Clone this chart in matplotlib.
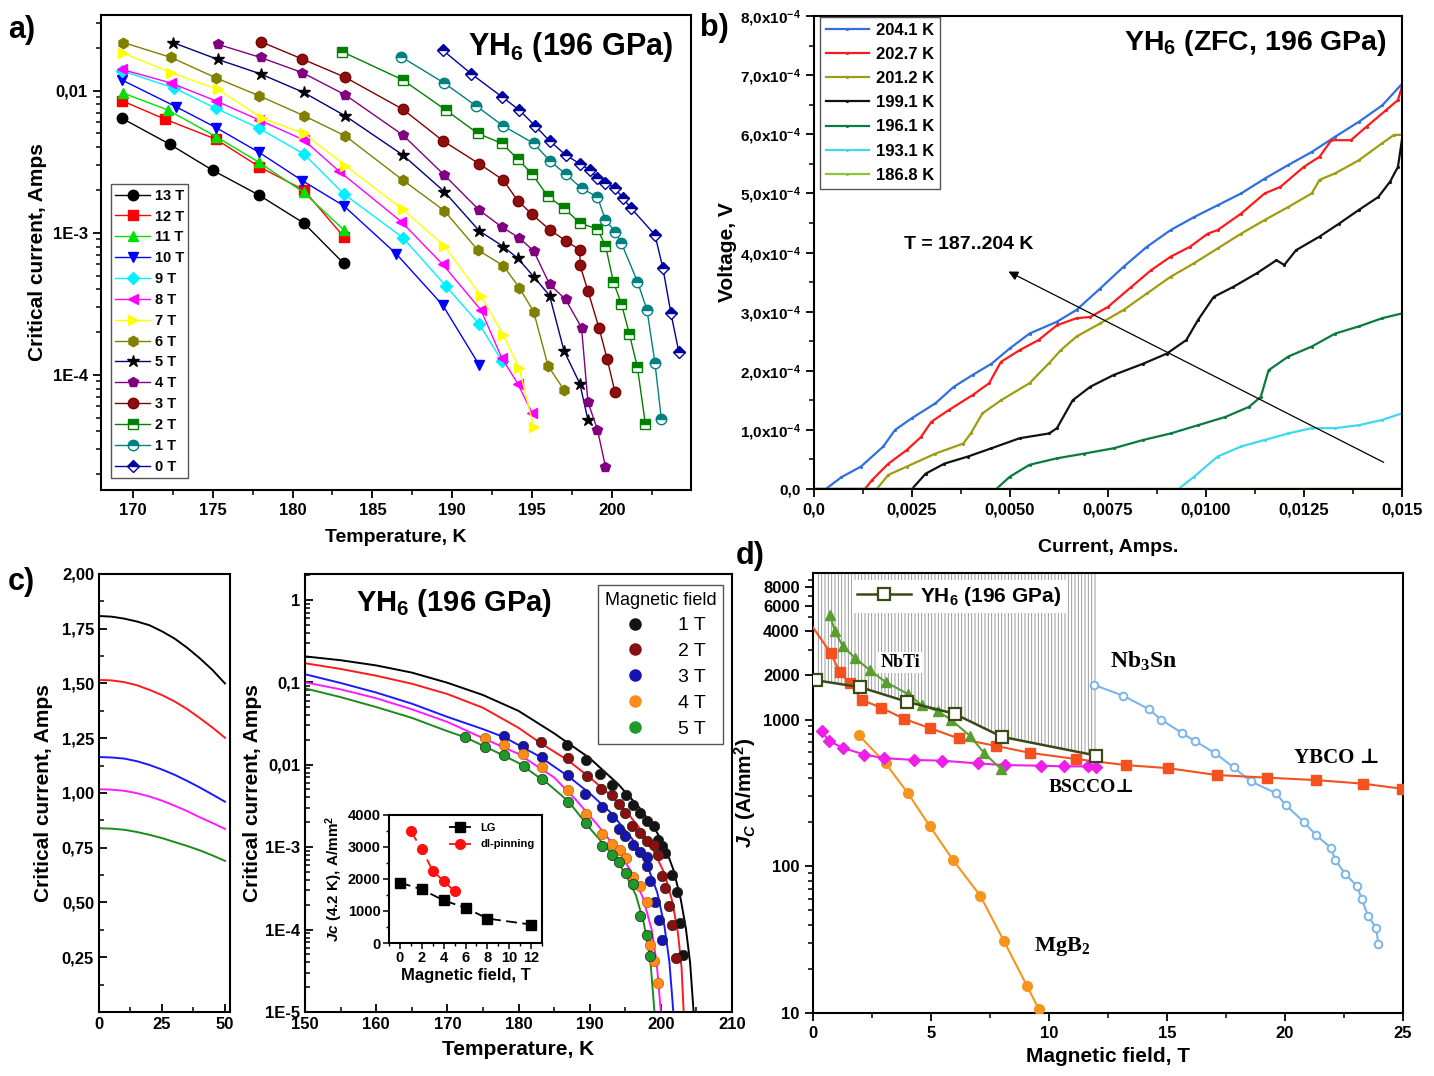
import matplotlib
matplotlib.use('Agg')
import matplotlib.pyplot as plt
from matplotlib.ticker import FixedLocator, FixedFormatter, LogLocator, NullFormatter, MultipleLocator
from matplotlib.lines import Line2D

plt.rcParams['font.family'] = ['Liberation Sans', 'DejaVu Sans']
plt.rcParams['font.weight'] = 'bold'
plt.rcParams['axes.labelweight'] = 'bold'
plt.rcParams['mathtext.fontset'] = 'custom'
plt.rcParams['mathtext.rm'] = 'Liberation Sans:bold'
plt.rcParams['mathtext.bf'] = 'Liberation Sans:bold'
plt.rcParams['mathtext.it'] = 'Liberation Sans:bold:italic'
plt.rcParams['mathtext.sf'] = 'Liberation Serif:bold'
plt.rcParams['mathtext.default'] = 'rm'
plt.rcParams['hatch.linewidth'] = 0.6
plt.rcParams['axes.linewidth'] = 1.5

# ---------------- panel a data: critical current vs T at fields ----------------
T13 = [169.3, 172.3, 175.0, 177.9, 180.7, 183.2]
I13 = [6.4e-3, 4.2e-3, 2.75e-3, 1.84e-3, 1.17e-3, 6.1e-4]
T12 = [169.3, 172.0, 175.2, 177.9, 180.7, 183.2]
I12 = [8.5e-3, 6.3e-3, 4.55e-3, 2.92e-3, 2.0e-3, 9.4e-4]
T11 = [169.4, 172.2, 175.2, 177.9, 180.7, 183.2]
I11 = [9.6e-3, 7.3e-3, 4.75e-3, 3.13e-3, 1.92e-3, 1.05e-3]
T10 = [169.3, 172.7, 175.2, 177.9, 180.6, 183.2, 186.5, 189.4, 191.7]
I10 = [1.19e-2, 7.7e-3, 5.5e-3, 3.68e-3, 2.33e-3, 1.55e-3, 7.1e-4, 3.1e-4, 1.17e-4]
T9 = [169.3, 172.6, 175.2, 177.9, 180.7, 183.2, 186.9, 189.6, 191.7, 193.1]
I9 = [1.38e-2, 1.04e-2, 7.5e-3, 5.43e-3, 3.59e-3, 1.88e-3, 9.25e-4, 4.23e-4, 2.27e-4, 1.26e-4]
T8 = [169.3, 172.4, 175.2, 177.9, 180.7, 182.9, 186.8, 189.4, 191.8, 193.1, 194.1, 195.0]
I8 = [1.41e-2, 1.13e-2, 8.46e-3, 6.22e-3, 4.5e-3, 2.72e-3, 1.2e-3, 6.0e-4, 2.86e-4, 1.32e-4, 8.7e-5, 5.4e-5]
T7 = [169.4, 172.4, 175.3, 178.1, 180.7, 183.3, 186.9, 189.5, 191.8, 193.2, 194.2, 195.1]
I7 = [1.83e-2, 1.34e-2, 1.02e-2, 6.4e-3, 5.0e-3, 2.97e-3, 1.46e-3, 8.1e-4, 3.6e-4, 1.91e-4, 1.11e-4, 4.3e-5]
T6 = [169.4, 172.4, 175.2, 177.9, 180.7, 183.3, 186.9, 189.5, 191.6, 193.2, 194.2, 195.1, 196.0, 197.0]
I6 = [2.18e-2, 1.71e-2, 1.23e-2, 9.2e-3, 6.67e-3, 4.8e-3, 2.35e-3, 1.43e-3, 7.57e-4, 5.87e-4, 4.11e-4, 2.79e-4, 1.16e-4, 7.84e-5]
T5 = [172.5, 175.3, 178.0, 180.7, 183.3, 186.9, 189.5, 191.7, 193.2, 194.1, 195.1, 196.1, 197.0, 198.0, 198.5]
I5 = [2.18e-2, 1.66e-2, 1.31e-2, 9.7e-3, 6.64e-3, 3.53e-3, 1.95e-3, 1.03e-3, 8.0e-4, 6.62e-4, 4.92e-4, 3.61e-4, 1.48e-4, 8.65e-5, 4.82e-5]
T4 = [175.3, 178.0, 180.6, 183.3, 186.9, 189.5, 191.7, 193.1, 194.2, 195.1, 196.1, 197.1, 198.1, 198.5, 199.1, 199.6]
I4 = [2.12e-2, 1.71e-2, 1.34e-2, 9.33e-3, 4.88e-3, 2.55e-3, 1.44e-3, 1.1e-3, 9.2e-4, 7.45e-4, 4.34e-4, 3.4e-4, 2.15e-4, 6.45e-5, 4.1e-5, 2.26e-5]
T3 = [178.0, 180.6, 183.3, 186.9, 189.4, 191.7, 193.2, 194.1, 195.0, 196.1, 197.1, 198.0, 198.0, 198.5, 199.2, 199.7, 200.2]
I3 = [2.21e-2, 1.67e-2, 1.24e-2, 7.4e-3, 4.45e-3, 3.05e-3, 2.35e-3, 1.68e-3, 1.35e-3, 1.05e-3, 8.8e-4, 7.57e-4, 5.94e-4, 3.9e-4, 2.13e-4, 1.3e-4, 7.55e-5]
T2 = [183.1, 186.9, 189.6, 191.6, 193.1, 194.1, 195.0, 196.0, 197.0, 198.0, 199.1, 199.6, 200.1, 200.6, 201.1, 201.6, 202.1]
I2 = [1.88e-2, 1.19e-2, 7.3e-3, 5.0e-3, 4.26e-3, 3.31e-3, 2.59e-3, 1.8e-3, 1.49e-3, 1.17e-3, 1.06e-3, 8.13e-4, 4.49e-4, 3.16e-4, 1.93e-4, 1.13e-4, 4.5e-5]
T1 = [186.8, 189.5, 191.5, 193.2, 195.1, 196.1, 197.1, 198.1, 199.1, 199.6, 200.2, 200.6, 201.6, 202.2, 202.7, 203.1]
I1 = [1.73e-2, 1.13e-2, 7.8e-3, 5.64e-3, 4.26e-3, 3.22e-3, 2.59e-3, 2.06e-3, 1.78e-3, 1.23e-3, 1.02e-3, 8.44e-4, 4.54e-4, 2.87e-4, 1.21e-4, 4.88e-5]
T0 = [189.4, 191.2, 193.1, 194.2, 195.2, 196.1, 197.1, 198.0, 198.6, 199.1, 199.6, 200.2, 200.7, 201.2, 202.7, 203.2, 203.7, 204.2]
I0 = [1.93e-2, 1.31e-2, 9.07e-3, 7.3e-3, 5.64e-3, 4.43e-3, 3.53e-3, 3.05e-3, 2.77e-3, 2.42e-3, 2.25e-3, 2.06e-3, 1.75e-3, 1.49e-3, 9.66e-4, 5.62e-4, 2.71e-4, 1.44e-4]
a_yticks = [1e-4, 1e-3, 1e-2]
a_yticklabels = ['1E-4', '1E-3', '0,01']

# ---------------- panel b data: V(I) curves ----------------
b_I_2041 = [0.0, 0.0003, 0.0007, 0.0012, 0.00177, 0.00207, 0.0025, 0.0031, 0.00357, 0.00405, 0.00453, 0.005, 0.0055, 0.0062, 0.0067, 0.0073, 0.0079, 0.0085, 0.0091, 0.0097, 0.0103, 0.0109, 0.0115, 0.0121, 0.0127, 0.0133, 0.0139, 0.0145, 0.015]
b_V_2041 = [0.0, 0.0, 0.2e-4, 0.38e-4, 0.72e-4, 1.0e-4, 1.2e-4, 1.45e-4, 1.73e-4, 1.93e-4, 2.12e-4, 2.38e-4, 2.63e-4, 2.83e-4, 3.03e-4, 3.39e-4, 3.76e-4, 4.1e-4, 4.38e-4, 4.6e-4, 4.8e-4, 5.0e-4, 5.25e-4, 5.48e-4, 5.7e-4, 5.96e-4, 6.21e-4, 6.49e-4, 6.85e-4]
b_I_2027 = [0.0, 0.0013, 0.00148, 0.0019, 0.00237, 0.00273, 0.003, 0.00345, 0.00405, 0.00447, 0.00477, 0.00525, 0.00573, 0.0062, 0.0067, 0.00705, 0.0075, 0.0081, 0.0086, 0.0091, 0.0096, 0.01005, 0.0103, 0.0109, 0.0115, 0.0119, 0.0125, 0.0129, 0.0132, 0.0137, 0.0141, 0.0146, 0.0149, 0.015]
b_V_2027 = [0.0, 0.0, 0.15e-4, 0.43e-4, 0.66e-4, 0.88e-4, 1.14e-4, 1.34e-4, 1.59e-4, 1.79e-4, 2.15e-4, 2.35e-4, 2.52e-4, 2.77e-4, 2.89e-4, 2.91e-4, 3.08e-4, 3.42e-4, 3.7e-4, 3.93e-4, 4.1e-4, 4.32e-4, 4.38e-4, 4.66e-4, 5.0e-4, 5.11e-4, 5.45e-4, 5.62e-4, 5.9e-4, 5.9e-4, 6.13e-4, 6.41e-4, 6.58e-4, 6.8e-4]
b_I_2012 = [0.0, 0.0016, 0.0019, 0.00237, 0.0031, 0.00381, 0.004, 0.0043, 0.00477, 0.0055, 0.006, 0.0063, 0.0067, 0.0073, 0.0079, 0.0085, 0.0091, 0.0097, 0.0103, 0.0109, 0.0115, 0.0121, 0.0127, 0.0129, 0.0133, 0.0139, 0.0145, 0.0148, 0.015]
b_V_2012 = [0.0, 0.0, 0.24e-4, 0.38e-4, 0.6e-4, 0.77e-4, 0.94e-4, 1.28e-4, 1.5e-4, 1.79e-4, 2.13e-4, 2.35e-4, 2.58e-4, 2.8e-4, 3.03e-4, 3.31e-4, 3.59e-4, 3.82e-4, 4.07e-4, 4.32e-4, 4.55e-4, 4.77e-4, 5.0e-4, 5.23e-4, 5.34e-4, 5.56e-4, 5.85e-4, 5.99e-4, 5.99e-4]
b_I_1991 = [0.0, 0.0025, 0.00285, 0.00333, 0.00393, 0.00453, 0.00525, 0.006, 0.0062, 0.0066, 0.00705, 0.00765, 0.0084, 0.009, 0.0095, 0.0098, 0.0102, 0.0107, 0.0113, 0.0118, 0.012, 0.0123, 0.0129, 0.0134, 0.0139, 0.0144, 0.0147, 0.0149, 0.015]
b_V_1991 = [0.0, 0.0, 0.26e-4, 0.43e-4, 0.55e-4, 0.69e-4, 0.86e-4, 0.94e-4, 1.03e-4, 1.5e-4, 1.73e-4, 1.93e-4, 2.12e-4, 2.29e-4, 2.52e-4, 2.86e-4, 3.25e-4, 3.42e-4, 3.65e-4, 3.87e-4, 3.79e-4, 4.04e-4, 4.27e-4, 4.49e-4, 4.72e-4, 4.94e-4, 5.2e-4, 5.45e-4, 5.9e-4]
b_I_1961 = [0.0, 0.00465, 0.005, 0.0055, 0.0062, 0.0069, 0.00765, 0.0084, 0.0091, 0.0098, 0.0105, 0.0111, 0.0114, 0.0116, 0.0121, 0.0127, 0.0133, 0.0139, 0.0145, 0.015]
b_V_1961 = [0.0, 0.0, 0.21e-4, 0.41e-4, 0.52e-4, 0.6e-4, 0.69e-4, 0.83e-4, 0.94e-4, 1.08e-4, 1.22e-4, 1.39e-4, 1.56e-4, 2.01e-4, 2.24e-4, 2.41e-4, 2.63e-4, 2.75e-4, 2.89e-4, 2.97e-4]
b_I_1931 = [0.0, 0.0093, 0.0097, 0.0103, 0.0109, 0.0115, 0.0121, 0.0127, 0.0133, 0.0139, 0.0145, 0.015]
b_V_1931 = [0.0, 0.0, 0.21e-4, 0.55e-4, 0.72e-4, 0.83e-4, 0.94e-4, 1.03e-4, 1.03e-4, 1.08e-4, 1.17e-4, 1.28e-4]
b_I_1868 = [0.0, 0.005, 0.01, 0.015]
b_V_1868 = [0.0, 0.02e-5, 0.03e-5, 0.04e-5]
b_labels = ['204.1 K', '202.7 K', '201.2 K', '199.1 K', '196.1 K', '193.1 K', '186.8 K']
b_colors = ['#2f6fde', '#ff1a1a', '#a09c10', '#111111', '#0b7a3e', '#3fd8f2', '#8cc43a']
b_yticks = [0, 1e-4, 2e-4, 3e-4, 4e-4, 5e-4, 6e-4, 7e-4, 8e-4]
b_yticklabels = ['0,0'] + ['%d,0x10$^{-4}$' % k for k in range(1, 9)]
b_xticks = [0, 0.0025, 0.005, 0.0075, 0.01, 0.0125, 0.015]
b_xticklabels = ['0,0', '0,0025', '0,0050', '0,0075', '0,0100', '0,0125', '0,015']

# ---------------- panel c data ----------------
cL_T = [0, 5, 10, 15, 20, 25, 30, 35, 40, 45, 50]
cL_1T = [1.808, 1.805, 1.796, 1.783, 1.766, 1.738, 1.705, 1.663, 1.615, 1.562, 1.500]
cL_2T = [1.516, 1.514, 1.506, 1.492, 1.471, 1.447, 1.418, 1.383, 1.342, 1.299, 1.252]
cL_3T = [1.164, 1.162, 1.157, 1.145, 1.128, 1.107, 1.083, 1.055, 1.025, 0.993, 0.960]
cL_4T = [1.017, 1.015, 1.010, 0.999, 0.984, 0.965, 0.942, 0.917, 0.889, 0.863, 0.836]
cL_5T = [0.839, 0.837, 0.832, 0.822, 0.809, 0.794, 0.776, 0.758, 0.738, 0.715, 0.690]
cL_yticks = [0.25, 0.5, 0.75, 1.0, 1.25, 1.5, 1.75, 2.0]
cL_yticklabels = ['0,25', '0,50', '0,75', '1,00', '1,25', '1,50', '1,75', '2,00']

fit1_T = [150, 155, 160, 165, 170, 175, 180, 185, 190, 194, 197, 199, 200.5, 201.8, 202.8, 203.5, 204.1, 204.6]
fit1_I = [0.206, 0.185, 0.160, 0.131, 0.0986, 0.070, 0.0449, 0.0240, 1.2e-2, 5.8e-3, 3.0e-3, 1.75e-3, 1.05e-3, 5.2e-4, 2.3e-4, 1.05e-4, 4.0e-5, 1.0e-5]
fit2_T = [150, 155, 160, 165, 170, 175, 180, 183, 187, 190, 193, 195, 197, 199, 200.5, 201.6, 202.4, 202.9, 203.2]
fit2_I = [0.170, 0.145, 0.120, 0.096, 0.072, 0.049, 0.028, 0.0185, 1.12e-2, 7.0e-3, 4.2e-3, 2.8e-3, 1.7e-3, 9.0e-4, 4.8e-4, 2.2e-4, 9e-5, 3.5e-5, 1e-5]
fit3_T = [150, 155, 160, 165, 170, 175, 178, 183, 187, 190, 193, 196, 198, 199.5, 200.5, 201.2, 201.75]
fit3_I = [0.125, 0.098, 0.075, 0.055, 0.038, 0.027, 0.0215, 0.0125, 7.2e-3, 4.5e-3, 2.6e-3, 1.25e-3, 6.3e-4, 2.8e-4, 1.1e-4, 4e-5, 1e-5]
fit4_T = [150, 155, 160, 165, 170, 175, 180, 185, 188, 191, 194, 196, 197.5, 198.7, 199.4, 200.0]
fit4_I = [0.0997, 0.082, 0.064, 0.047, 0.033, 0.021, 0.0135, 7.0e-3, 3.8e-3, 1.9e-3, 9.0e-4, 4.8e-4, 2.4e-4, 1.0e-4, 4e-5, 1e-5]
fit5_T = [150, 155, 160, 165, 170, 172.5, 176, 180, 184, 187, 190, 193, 195, 196.5, 197.6, 198.5, 199.1]
fit5_I = [0.0843, 0.066, 0.050, 0.037, 0.0255, 0.0215, 0.0155, 0.0105, 6.0e-3, 3.6e-3, 1.7e-3, 8.5e-4, 4.8e-4, 2.6e-4, 1.2e-4, 4.5e-5, 1e-5]
c_yticks = [1e-5, 1e-4, 1e-3, 1e-2, 1e-1, 1]
c_yticklabels = ['1E-5', '1E-4', '1E-3', '0,01', '0,1', '1']
c_field_labels = ['1 T', '2 T', '3 T', '4 T', '5 T']
c_marker_colors = ['#141414', '#8a1010', '#1414b4', '#ff8c1a', '#1f9a2a']
c_line_colors = ['#000000', '#ff1a1a', '#1a1aff', '#ff1aff', '#1a8c1a']

inset_LG_B = [0, 2, 4, 6, 8, 12]
inset_LG_J = [1885, 1675, 1330, 1100, 764, 576]
inset_dl_B = [1, 2, 3, 4, 5]
inset_dl_J = [3487, 2932, 2251, 1937, 1613]

# ---------------- panel d data ----------------
d_YH6_B = [0.13, 2.0, 4.0, 6.0, 8.0, 12.0]
d_YH6_J = [1855, 1665, 1322, 1096, 764, 569]
d_NbTi_B = [0.72, 0.94, 1.26, 1.79, 2.40, 3.08, 4.02, 4.62, 5.28, 5.85, 6.66, 7.26, 7.98]
d_NbTi_J = [5140, 3993, 3170, 2628, 2180, 1805, 1496, 1253, 1143, 1000, 773, 591, 459]
d_YBCO_B = [0.0, 0.75, 1.13, 1.55, 2.08, 2.89, 3.87, 4.96, 6.17, 7.75, 9.19, 11.13, 13.25, 15.04, 17.11, 19.25, 21.32, 23.3, 24.96]
d_YBCO_J = [4256, 2850, 2120, 1774, 1359, 1207, 1011, 875, 745, 662, 594, 539, 490, 467, 419, 402, 387, 366, 338]
d_BSCCO_B = [0.38, 0.66, 1.28, 2.17, 3.02, 4.28, 5.47, 6.98, 8.13, 9.66, 10.62, 11.66, 11.98]
d_BSCCO_J = [838, 717, 641, 578, 546, 531, 525, 503, 490, 485, 480, 480, 472]
d_MgB2_B = [1.94, 3.08, 4.02, 4.94, 5.94, 7.09, 8.09, 9.08, 9.57]
d_MgB2_J = [785, 503, 316, 189, 110, 63, 31, 15.2, 10.6]
d_Nb3Sn_B = [11.89, 13.15, 14.25, 14.75, 15.66, 16.17, 17.04, 17.83, 18.55, 19.62, 20.04, 20.81, 21.32, 21.94, 22.13, 22.55, 23.06, 23.25, 23.53, 23.87, 23.96]
d_Nb3Sn_J = [1730, 1456, 1175, 1000, 807, 717, 591, 472, 380, 315, 261, 200, 163, 134, 111, 89, 73, 60, 45.7, 37.9, 29.3]
d_yticks = [10, 100, 1000, 2000, 4000, 6000, 8000]
d_yticklabels = ['10', '100', '1000', '2000', '4000', '6000', '8000']

# ============================================================
fig = plt.figure(figsize=(14.34, 10.76), dpi=100)

# ---------------- panel a ----------------
axa = fig.add_axes([0.0704, 0.5446, 0.4114, 0.4414])
a_series = [
    (T13, I13, '13 T', dict(marker='o', color='#000000', mfc='#000000')),
    (T12, I12, '12 T', dict(marker='s', color='#ff0000', mfc='#ff0000')),
    (T11, I11, '11 T', dict(marker='^', color='#00e000', mfc='#00e000')),
    (T10, I10, '10 T', dict(marker='v', color='#0000ff', mfc='#0000ff')),
    (T9, I9, '9 T', dict(marker='D', color='#00f0ff', mfc='#00f0ff', ms=6.5)),
    (T8, I8, '8 T', dict(marker='<', color='#ff00ff', mfc='#ff00ff')),
    (T7, I7, '7 T', dict(marker='>', color='#ffff00', mfc='#ffff00')),
    (T6, I6, '6 T', dict(marker='h', color='#808000', mfc='#808000')),
    (T5, I5, '5 T', dict(marker='*', color='#000080', mfc='#000000', mec='#000000', ms=9)),
    (T4, I4, '4 T', dict(marker='p', color='#800080', mfc='#800080')),
    (T3, I3, '3 T', dict(marker='o', color='#800000', mfc='#8b1010')),
    (T2, I2, '2 T', dict(marker='s', color='#008000', mfc='#008000', fillstyle='top', markerfacecoloralt='white', ms=6.5)),
    (T1, I1, '1 T', dict(marker='o', color='#008080', mfc='#008080', fillstyle='top', markerfacecoloralt='white')),
    (T0, I0, '0 T', dict(marker='D', color='#0000a0', mfc='#0000a0', fillstyle='top', markerfacecoloralt='white', ms=6.5)),
]
for T, I, lab, kw in a_series:
    kw = dict(kw)
    kw.setdefault('ms', 7.5)
    kw.setdefault('mec', kw['color'])
    axa.plot(T, I, lw=1.0, label=lab, **kw)
axa.set_yscale('log')
axa.set_xlim(168.0, 204.95)
axa.set_ylim(1.55e-5, 0.034)
axa.xaxis.set_major_locator(MultipleLocator(5))
axa.xaxis.set_minor_locator(MultipleLocator(2.5))
axa.yaxis.set_major_locator(FixedLocator(a_yticks))
axa.yaxis.set_major_formatter(FixedFormatter(a_yticklabels))
axa.yaxis.set_minor_locator(LogLocator(base=10, subs=(2, 3, 4, 5, 6, 7, 8, 9)))
axa.yaxis.set_minor_formatter(NullFormatter())
axa.tick_params(axis='both', which='major', direction='out', length=6, width=1.3, labelsize=12, top=False, right=False)
axa.tick_params(axis='both', which='minor', direction='out', length=3.5, width=1.1, top=False, right=False)
axa.set_xlabel('Temperature, K', fontsize=14, labelpad=8)
axa.set_ylabel('Critical current, Amps', fontsize=15, labelpad=4)
axa.text(0.969, 0.933, 'YH$_\\mathbf{6}$ (196 GPa)', transform=axa.transAxes, ha='right', va='center', fontsize=22)
axa.legend(loc='lower left', bbox_to_anchor=(0.017, 0.025), fontsize=10.5, frameon=True, fancybox=False,
           edgecolor='#555555', framealpha=1, labelspacing=0.47, handlelength=2.4, handletextpad=0.3,
           borderpad=0.3, borderaxespad=0)

# ---------------- panel b ----------------
axb = fig.add_axes([0.5676, 0.5455, 0.4100, 0.4396])
b_series = [(b_I_2041, b_V_2041), (b_I_2027, b_V_2027), (b_I_2012, b_V_2012), (b_I_1991, b_V_1991),
            (b_I_1961, b_V_1961), (b_I_1931, b_V_1931), (b_I_1868, b_V_1868)]
for (I, V), lab, col in zip(b_series, b_labels, b_colors):
    axb.plot(I, V, color=col, lw=1.6, marker='.', ms=2.5, label=lab)
axb.set_xlim(0, 0.015)
axb.set_ylim(0, 8e-4)
axb.xaxis.set_major_locator(FixedLocator(b_xticks))
axb.xaxis.set_major_formatter(FixedFormatter(b_xticklabels))
axb.xaxis.set_minor_locator(MultipleLocator(0.00125))
axb.yaxis.set_major_locator(FixedLocator(b_yticks))
axb.yaxis.set_major_formatter(FixedFormatter(b_yticklabels))
axb.yaxis.set_minor_locator(MultipleLocator(0.5e-4))
axb.tick_params(axis='both', which='major', direction='out', length=6, width=1.3, top=False, right=False)
axb.tick_params(axis='x', which='major', labelsize=12)
axb.tick_params(axis='y', which='major', labelsize=11)
axb.tick_params(axis='both', which='minor', direction='out', length=3.5, width=1.1, top=False, right=False)
axb.set_xlabel('Current, Amps.', fontsize=14, labelpad=16)
axb.set_ylabel('Voltage, V', fontsize=15, labelpad=2)
axb.text(0.974, 0.943, 'YH$_\\mathbf{6}$ (ZFC, 196 GPa)', transform=axb.transAxes, ha='right', va='center', fontsize=20.5)
axb.annotate('', xy=(0.0049, 3.7e-4), xytext=(0.0146, 0.43e-4),
             arrowprops=dict(arrowstyle='-|>', color='black', lw=0.9, mutation_scale=14))
axb.text(0.0023, 4.13e-4, 'T = 187..204 K', fontsize=14, ha='left', va='center')
axb.legend(loc='upper left', bbox_to_anchor=(0.01, 0.998), fontsize=12, frameon=True, fancybox=False,
           edgecolor='#555555', framealpha=1, labelspacing=0.55, handlelength=2.6, handletextpad=0.4,
           borderpad=0.35, borderaxespad=0)

# ---------------- panel c left ----------------
axcl = fig.add_axes([0.0690, 0.0595, 0.0914, 0.4071])
for ys, col in zip([cL_1T, cL_2T, cL_3T, cL_4T, cL_5T], c_line_colors):
    axcl.plot(cL_T, ys, color=col, lw=1.4)
axcl.set_xlim(0, 52)
axcl.set_ylim(0, 2.0)
axcl.xaxis.set_major_locator(FixedLocator([0, 25, 50]))
axcl.xaxis.set_minor_locator(FixedLocator([12.5, 37.5]))
axcl.yaxis.set_major_locator(FixedLocator(cL_yticks))
axcl.yaxis.set_major_formatter(FixedFormatter(cL_yticklabels))
axcl.yaxis.set_minor_locator(MultipleLocator(0.125))
axcl.tick_params(axis='both', which='major', direction='in', length=6, width=1.3, labelsize=12, top=False, right=False)
axcl.tick_params(axis='both', which='minor', direction='in', length=3.5, width=1.1, top=False, right=False)
axcl.set_ylabel('Critical current, Amps', fontsize=15, labelpad=6)

# ---------------- panel c main ----------------
axc = fig.add_axes([0.2127, 0.0595, 0.2978, 0.4071])
fits = [(fit1_T, fit1_I), (fit2_T, fit2_I), (fit3_T, fit3_I), (fit4_T, fit4_I), (fit5_T, fit5_I)]
for (T, I), col in zip(fits, c_line_colors):
    axc.plot(T, I, color=col, lw=1.4, zorder=2)
c_data = [(T1, I1), (T2, I2), (T3, I3), (T4, I4), (T5, I5)]
handles = []
for (T, I), col, lab in zip(c_data, c_marker_colors, c_field_labels):
    axc.plot(T, I, ls='none', marker='o', ms=7.5, mfc=col, mec='#222222' if col != '#ff8c1a' else '#c06000',
             mew=0.5, zorder=3)
    handles.append(Line2D([], [], ls='none', marker='o', ms=8, mfc=col, mec=col, label=lab))
axc.set_yscale('log')
axc.set_xlim(150, 210)
axc.set_ylim(1e-5, 2.06)
axc.xaxis.set_major_locator(MultipleLocator(10))
axc.xaxis.set_minor_locator(MultipleLocator(5))
axc.yaxis.set_major_locator(FixedLocator(c_yticks))
axc.yaxis.set_major_formatter(FixedFormatter(c_yticklabels))
axc.yaxis.set_minor_locator(LogLocator(base=10, subs=(2, 3, 4, 5, 6, 7, 8, 9)))
axc.yaxis.set_minor_formatter(NullFormatter())
axc.tick_params(axis='both', which='major', direction='in', length=6, width=1.3, labelsize=12, top=False, right=False)
axc.tick_params(axis='both', which='minor', direction='in', length=3.5, width=1.1, top=False, right=False)
axc.set_xlabel('Temperature, K', fontsize=15, labelpad=6)
axc.set_ylabel('Critical current, Amps', fontsize=15, labelpad=2)
axc.text(0.12, 0.934, 'YH$_\\mathbf{6}$ (196 GPa)', transform=axc.transAxes, ha='left', va='center', fontsize=21)
legc = axc.legend(handles=handles, title='Magnetic field', loc='upper right', bbox_to_anchor=(0.979, 0.975),
                  title_fontsize=13, frameon=True, fancybox=False, edgecolor='#555555',
                  framealpha=1, labelspacing=0.42, handletextpad=1.2, borderpad=0.35, borderaxespad=0,
                  prop={'weight': 'normal', 'size': 14})
legc.get_title().set_fontweight('normal')

# inset
axi = fig.add_axes([0.2713, 0.1236, 0.1067, 0.1190])
axi.plot(inset_LG_B, inset_LG_J, color='black', ls=(0, (6, 3)), lw=1.3, marker='s', ms=7, label='LG')
axi.plot(inset_dl_B, inset_dl_J, color='#ff1010', ls=(0, (6, 3)), lw=1.3, marker='o', ms=7, label='dl-pinning')
axi.set_xlim(-1, 13)
axi.set_ylim(0, 4000)
axi.xaxis.set_major_locator(MultipleLocator(2))
axi.xaxis.set_minor_locator(MultipleLocator(1))
axi.yaxis.set_major_locator(MultipleLocator(1000))
axi.yaxis.set_minor_locator(MultipleLocator(500))
axi.tick_params(axis='both', which='major', direction='out', length=4, width=1.1, labelsize=10.5, top=False, right=False, pad=2)
axi.tick_params(axis='both', which='minor', direction='out', length=2.5, width=1.0, top=False, right=False)
axi.set_xlabel('Magnetic field, T', fontsize=12, labelpad=2)
axi.set_ylabel('$\\mathit{Jc}$ (4.2 K), A/mm$^\\mathbf{2}$', fontsize=11, labelpad=2)
axi.legend(loc='upper right', fontsize=8, frameon=False, handlelength=2.0, labelspacing=0.6, borderaxespad=0.3)

# ---------------- panel d ----------------
axd = fig.add_axes([0.5669, 0.0586, 0.4114, 0.4089])
axd.fill_between(d_YH6_B, d_YH6_J, 1e4, facecolor='none', edgecolor='#8c8c8c', hatch='|||||', linewidth=0, zorder=1)
axd.plot(d_MgB2_B, d_MgB2_J, color='#f7941d', lw=1.5, marker='o', ms=7, zorder=3)
axd.plot(d_Nb3Sn_B, d_Nb3Sn_J, color='#7ab6ea', lw=1.5, marker='o', ms=5.5, mfc='white', mew=1.4, zorder=3)
axd.plot(d_YBCO_B, d_YBCO_J, color='#f4511e', lw=1.5, marker='s', ms=7.5, markevery=list(range(1, len(d_YBCO_B))), zorder=3)
axd.plot(d_BSCCO_B, d_BSCCO_J, color='#ee20e8', lw=1.5, marker='D', ms=6.5, zorder=3)
axd.plot(d_NbTi_B, d_NbTi_J, color='#5a9e30', lw=1.5, marker='^', ms=7, zorder=4)
axd.plot(d_YH6_B, d_YH6_J, color='#3a4a16', lw=1.8, marker='s', ms=9, mfc='white', mew=1.6, zorder=5,
         label='YH$_\\mathbf{6}$ (196 GPa)')
axd.set_yscale('log')
axd.set_xlim(0, 25)
axd.set_ylim(10, 1e4)
axd.xaxis.set_major_locator(MultipleLocator(5))
axd.xaxis.set_minor_locator(MultipleLocator(2.5))
axd.yaxis.set_major_locator(FixedLocator(d_yticks))
axd.yaxis.set_major_formatter(FixedFormatter(d_yticklabels))
axd.yaxis.set_minor_locator(LogLocator(base=10, subs=(2, 3, 4, 5, 6, 7, 8, 9)))
axd.yaxis.set_minor_formatter(NullFormatter())
axd.tick_params(axis='both', which='major', direction='out', length=6, width=1.3, labelsize=12, top=False, right=False)
axd.tick_params(axis='both', which='minor', direction='out', length=3.5, width=1.1, top=False, right=False)
axd.set_xlabel('Magnetic field, T', fontsize=15, labelpad=4)
axd.set_ylabel('$\\mathit{J_C}$ (A/mm$^\\mathbf{2}$)', fontsize=15, labelpad=4)
serif = ['Liberation Serif', 'DejaVu Serif']
axd.text(3.7, 2450, 'NbTi', family=serif, fontsize=13, ha='center', va='center', zorder=6,
         bbox=dict(facecolor='white', edgecolor='none', pad=1.5))
axd.text(14.0, 2495, 'Nb$_\\mathsf{3}$Sn', family=serif, fontsize=17, ha='center', va='center')
axd.text(22.2, 551, 'YBCO \u22a5', family=serif, fontsize=15, ha='center', va='center')
axd.text(11.8, 345, 'BSCCO\u22a5', family=serif, fontsize=14, ha='center', va='center')
axd.text(10.55, 28.5, 'MgB$_\\mathsf{2}$', family=serif, fontsize=16, ha='center', va='center')
legd = axd.legend(loc='upper left', bbox_to_anchor=(0.066, 0.985), fontsize=15, frameon=True, fancybox=False,
                  edgecolor='none', facecolor='white', framealpha=1, handlelength=2.6, handletextpad=0.4,
                  borderpad=0.25, borderaxespad=0)
legd.set_zorder(7)

# panel letters
fig.text(8 / 1434, 1 - 30 / 1076, 'a)', fontsize=22, ha='left', va='center')
fig.text(700 / 1434, 1 - 28 / 1076, 'b)', fontsize=22, ha='left', va='center')
fig.text(8 / 1434, 1 - 582 / 1076, 'c)', fontsize=22, ha='left', va='center')
fig.text(736 / 1434, 1 - 556 / 1076, 'd)', fontsize=22, ha='left', va='center')

fig.savefig('out.png', dpi=100)
